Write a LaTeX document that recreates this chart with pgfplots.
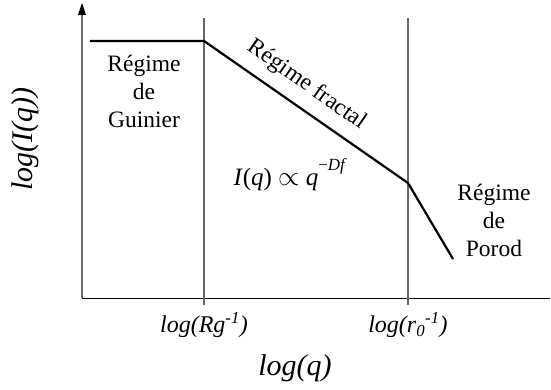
\documentclass[border=0pt]{standalone}
\usepackage{pgfplots}
\pgfplotsset{compat=1.18}
\usetikzlibrary{arrows.meta}
\usepackage{fontspec}
\setmainfont{Liberation Serif}
\begin{document}
\begin{tikzpicture}
\begin{axis}[
    scale only axis,
    width=468pt, height=293pt,
    xmin=82, xmax=550,
    ymin=0, ymax=293,
    axis x line=bottom,
    axis y line=none,
    x axis line style={-, black, line width=0.9pt},
    ytick=\empty,
    xtick={204,408},
    xticklabels={\textit{log(Rg\textsuperscript{-1})}, \textit{log(r\textsubscript{0}\textsuperscript{-1})}},
    xticklabel style={anchor=base, yshift=-35pt, font=\fontsize{24}{28}\selectfont},
    major tick length=0pt,
    clip=false,
]
% bounding box of the whole picture
\path (axis cs:0,298) rectangle (axis cs:551,-92);

% y axis with arrow
\draw[gray!85!black, line width=1.1pt]
    (axis cs:82,0) -- (axis cs:82,284);
\fill[black] (axis cs:78,283) -- (axis cs:82,295) -- (axis cs:86,283) -- cycle;

% regime boundaries
\addplot[gray!80!black, line width=1.2pt, no marks] coordinates {(204,-7) (204,280)};
\addplot[gray!80!black, line width=1.2pt, no marks] coordinates {(408,-7) (408,280)};

% scattering curve
\addplot[black, line width=2.2pt, no marks] coordinates {
    (90,257) (204,257) (408,115) (453,39)
};

% regime names
\begin{scope}[every node/.style={anchor=base, font=\fontsize{23.5}{28}\selectfont}]
\node at (axis cs:144,226) {Régime};
\node at (axis cs:144,198) {de};
\node at (axis cs:144,170) {Guinier};
\node at (axis cs:494,97) {Régime};
\node at (axis cs:494,69) {de};
\node at (axis cs:494,41) {Porod};
\end{scope}
\node[rotate=-35, font=\fontsize{23.5}{28}\selectfont] at (axis cs:307,213) {Régime fractal};

\node[anchor=base west, font=\fontsize{25}{30}\selectfont] at (axis cs:230,112)
    {\textit{I}(\textit{q}) \scalebox{1.1}{$\propto$} \textit{q}\raisebox{0.6em}{\fontsize{17}{20}\selectfont −\textit{Df}}};

% axis labels
\node[anchor=base, font=\fontsize{30}{36}\selectfont\itshape] at (axis cs:295,-78) {log(q)};
\node[anchor=base, rotate=90, font=\fontsize{30}{36}\selectfont\itshape] at (axis cs:33,159) {log(I(q))};
\end{axis}
\end{tikzpicture}
\end{document}
